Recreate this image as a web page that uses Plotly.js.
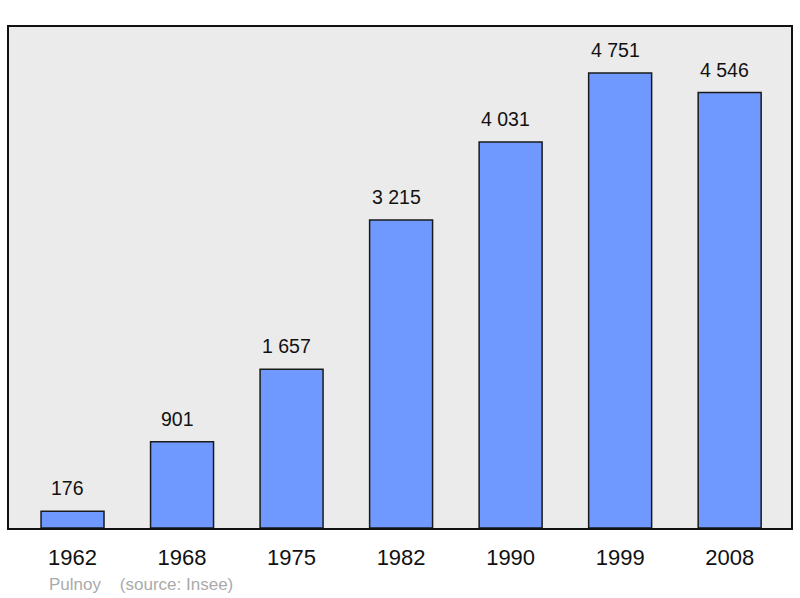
<!DOCTYPE html>
<html><head><meta charset="utf-8">
<script src="https://cdn.plot.ly/plotly-3.0.1.min.js"></script>
<style>body{margin:0;background:#fff}#c{width:800px;height:598px}</style>
</head><body><div id="c"></div>
<script>
const years = ['1962','1968','1975','1982','1990','1999','2008'];
const population = [176, 901, 1657, 3215, 4031, 4751, 4546];
const valueLabels = ['176','901','1 657','3 215','4 031','4 751','4 546'];
const townName = 'Pulnoy';
const sourceText = '(source: Insee)';

const trace = {
  type: 'bar', x: years, y: population, width: 0.575,
  marker: {color: '#7099ff', line: {color: '#1a1a1a', width: 1.5}},
  hoverinfo: 'none'
};
const annotations = years.map((y, i) => ({
  x: i, y: population[i], text: valueLabels[i], showarrow: false,
  yanchor: 'bottom', yshift: 10, xshift: -5,
  font: {family: 'Liberation Sans, Arial, sans-serif', size: 19.5, color: '#111'}
}));
annotations.push({
  xref: 'paper', yref: 'paper', x: (47-9)/782, y: -0.112, xanchor: 'left', yanchor: 'middle',
  text: townName + '&nbsp;&nbsp;&nbsp;&nbsp;' + sourceText, showarrow: false,
  font: {family: 'Liberation Sans, Arial, sans-serif', size: 17, color: '#aaaaaa'}
});
const layout = {
  width: 800, height: 598,
  margin: {l: 9, r: 9, t: 27, b: 70},
  paper_bgcolor: '#ffffff', plot_bgcolor: '#ebebeb',
  showlegend: false,
  font: {family: 'Liberation Sans, Arial, sans-serif', color: '#111'},
  xaxis: {type: 'category', range: [-0.58, 6.56], showgrid: false, zeroline: false,
    showline: true, mirror: true, linecolor: '#111', linewidth: 2,
    ticks: '', tickfont: {size: 22, color: '#111'}, ticklabelstandoff: 9},
  yaxis: {range: [0, 5231], showgrid: false, zeroline: false, showticklabels: false,
    showline: true, mirror: true, linecolor: '#111', linewidth: 2, ticks: ''},
  annotations: annotations
};
Plotly.newPlot('c', [trace], layout, {displayModeBar: false, staticPlot: true});
</script></body></html>
